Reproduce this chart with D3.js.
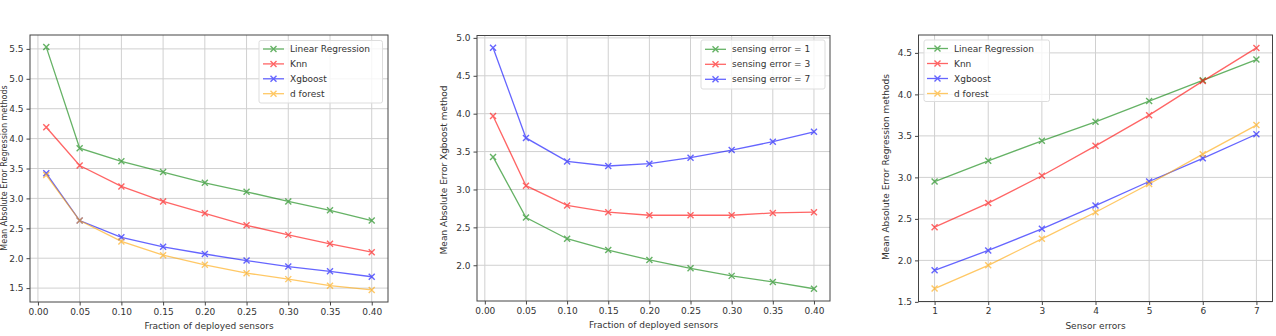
<!DOCTYPE html>
<html><head><meta charset="utf-8">
<script src="https://cdn.jsdelivr.net/npm/d3@7"></script>
<style>body{margin:0;background:#fff;} text{font-family:"DejaVu Sans",sans-serif;}</style>
</head><body>
<svg id="c" width="1276" height="336"></svg>
<script>
// Panel 1 & 2 x values
const fractions = [0.01,0.05,0.10,0.15,0.20,0.25,0.30,0.35,0.40];
const fracTicks = [0.00,0.05,0.10,0.15,0.20,0.25,0.30,0.35,0.40];
// Panel 1
const p1LinReg = [5.53,3.84,3.62,3.44,3.26,3.11,2.95,2.80,2.63];
const p1Knn    = [4.19,3.55,3.20,2.95,2.75,2.55,2.39,2.24,2.10];
const p1Xgb    = [3.42,2.63,2.35,2.19,2.07,1.96,1.86,1.78,1.69];
const p1Forest = [3.39,2.63,2.28,2.05,1.89,1.75,1.65,1.54,1.47];
const p1YTicks = [1.5,2.0,2.5,3.0,3.5,4.0,4.5,5.0,5.5];
// Panel 2
const p2Err1 = [3.43,2.63,2.35,2.20,2.07,1.96,1.86,1.78,1.69];
const p2Err3 = [3.97,3.05,2.79,2.70,2.66,2.66,2.66,2.69,2.70];
const p2Err7 = [4.87,3.68,3.37,3.31,3.34,3.42,3.52,3.63,3.76];
const p2YTicks = [2.0,2.5,3.0,3.5,4.0,4.5,5.0];
// Panel 3
const sensorErrors = [1,2,3,4,5,6,7];
const p3LinReg = [2.95,3.20,3.44,3.67,3.92,4.17,4.42];
const p3Knn    = [2.40,2.69,3.02,3.38,3.75,4.16,4.56];
const p3Xgb    = [1.88,2.12,2.38,2.66,2.95,3.23,3.52];
const p3Forest = [1.66,1.94,2.26,2.58,2.92,3.28,3.63];
const p3YTicks = [1.5,2.0,2.5,3.0,3.5,4.0,4.5];

const methodNames = ["Linear Regression","Knn","Xgboost","d forest"];
const errNames = ["sensing error = 1","sensing error = 3","sensing error = 7"];

const C = {g:"#008000", r:"#ff0000", b:"#0000ff", o:"#ffa500"};
const svg = d3.select("#c");

function panel(o){
  const g = svg.append("g");
  const x = d3.scaleLinear().domain(o.xd).range([o.l,o.r]);
  const y = d3.scaleLinear().domain(o.yd).range([o.b,o.t]);
  // grid
  g.append("g").selectAll("line").data(o.xt).join("line")
    .attr("x1",d=>x(d)).attr("x2",d=>x(d)).attr("y1",o.t).attr("y2",o.b)
    .attr("stroke","#d0d0d0").attr("stroke-width",1);
  g.append("g").selectAll("line").data(o.yt).join("line")
    .attr("y1",d=>y(d)).attr("y2",d=>y(d)).attr("x1",o.l).attr("x2",o.r)
    .attr("stroke","#d0d0d0").attr("stroke-width",1);
  // axes
  const xa = g.append("g").attr("transform",`translate(0,${o.b})`)
    .call(d3.axisBottom(x).tickValues(o.xt).tickFormat(o.xf).tickSize(3.5).tickPadding(3));
  const ya = g.append("g").attr("transform",`translate(${o.l},0)`)
    .call(d3.axisLeft(y).tickValues(o.yt).tickFormat(d3.format(".1f")).tickSize(3.5).tickPadding(3));
  [xa,ya].forEach(a=>{
    a.select(".domain").remove();
    a.selectAll("line").attr("stroke","#444");
    a.selectAll("text").attr("fill","#333").style("font-size","9px").style("font-family","DejaVu Sans");
  });
  g.append("rect").attr("x",o.l).attr("y",o.t).attr("width",o.r-o.l).attr("height",o.b-o.t)
    .attr("fill","none").attr("stroke","#444").attr("stroke-width",1);
  // series
  const line = d3.line().x((d,i)=>x(o.xs[i])).y(d=>y(d));
  o.series.forEach(s=>{
    const sg = g.append("g").attr("opacity",0.6);
    sg.append("path").attr("d",line(s.v)).attr("fill","none").attr("stroke",s.c).attr("stroke-width",1.3);
    sg.selectAll("path.m").data(s.v).join("path").attr("class","m")
      .attr("d",(d,i)=>{const cx=x(o.xs[i]),cy=y(d),k=3;return `M${cx-k},${cy-k}L${cx+k},${cy+k}M${cx-k},${cy+k}L${cx+k},${cy-k}`;})
      .attr("stroke",s.c).attr("stroke-width",1.4).attr("fill","none");
  });
  // legend
  const L = o.leg;
  g.append("rect").attr("x",L.x).attr("y",L.y).attr("width",L.w).attr("height",L.h).attr("rx",2)
    .attr("fill","#fff").attr("fill-opacity",0.8).attr("stroke","#ddd");
  o.series.forEach((s,i)=>{
    const yy = L.y0 + i*L.dy;
    const lg = g.append("g").attr("opacity",0.6);
    lg.append("line").attr("x1",L.lx).attr("x2",L.lx+21).attr("y1",yy).attr("y2",yy).attr("stroke",s.c).attr("stroke-width",1.3);
    const cx=L.lx+10.5,k=3;
    lg.append("path").attr("d",`M${cx-k},${yy-k}L${cx+k},${yy+k}M${cx-k},${yy+k}L${cx+k},${yy-k}`).attr("stroke",s.c).attr("stroke-width",1.4);
    g.append("text").attr("x",L.lx+27).attr("y",yy).attr("dy","0.35em").text(s.n)
      .attr("fill","#333").style("font-size","9px");
  });
  // labels
  g.append("text").attr("x",(o.l+o.r)/2).attr("y",o.b+27).attr("text-anchor","middle")
    .attr("fill","#333").style("font-size","9px").text(o.xl);
  g.append("text").attr("transform",`translate(${o.ylx},${o.yly}) rotate(-90)`).attr("text-anchor","middle")
    .attr("fill","#333").style("font-size",(o.yfs||9)+"px").text(o.yl);
}

const ff = d3.format(".2f");
panel({l:30,r:388,t:35,b:302,xd:[-0.0095,0.4195],yd:[1.2675,5.7325],xt:fracTicks,yt:p1YTicks,xf:ff,xs:fractions,
  series:[{v:p1LinReg,c:C.g,n:methodNames[0]},{v:p1Knn,c:C.r,n:methodNames[1]},{v:p1Xgb,c:C.b,n:methodNames[2]},{v:p1Forest,c:C.o,n:methodNames[3]}],
  leg:{x:259,y:40.5,w:123.5,h:62.5,lx:263,y0:49,dy:14.9},
  xl:"Fraction of deployed sensors",yl:"Mean Absolute Error Regression methods",ylx:7,yly:168,yfs:8});
panel({l:477,r:830,t:35.5,b:301,xd:[-0.0095,0.4195],yd:[1.5285,5.0315],xt:fracTicks,yt:p2YTicks,xf:ff,xs:fractions,
  series:[{v:p2Err1,c:C.g,n:errNames[0]},{v:p2Err3,c:C.r,n:errNames[1]},{v:p2Err7,c:C.b,n:errNames[2]}],
  leg:{x:701,y:40,w:124,h:49,lx:705,y0:49.3,dy:15},
  xl:"Fraction of deployed sensors",yl:"Mean Absolute Error Xgboost method",ylx:447,yly:170});
panel({l:918.5,r:1272.5,t:35,b:301.5,xd:[0.7,7.3],yd:[1.5045,4.7155],xt:sensorErrors,yt:p3YTicks,xf:d3.format("d"),xs:sensorErrors,
  series:[{v:p3LinReg,c:C.g,n:methodNames[0]},{v:p3Knn,c:C.r,n:methodNames[1]},{v:p3Xgb,c:C.b,n:methodNames[2]},{v:p3Forest,c:C.o,n:methodNames[3]}],
  leg:{x:924,y:40,w:125.5,h:61.5,lx:927,y0:48.5,dy:15},
  xl:"Sensor errors",yl:"Mean Absolute Error Regression methods",ylx:889,yly:167});
</script>
</body></html>
